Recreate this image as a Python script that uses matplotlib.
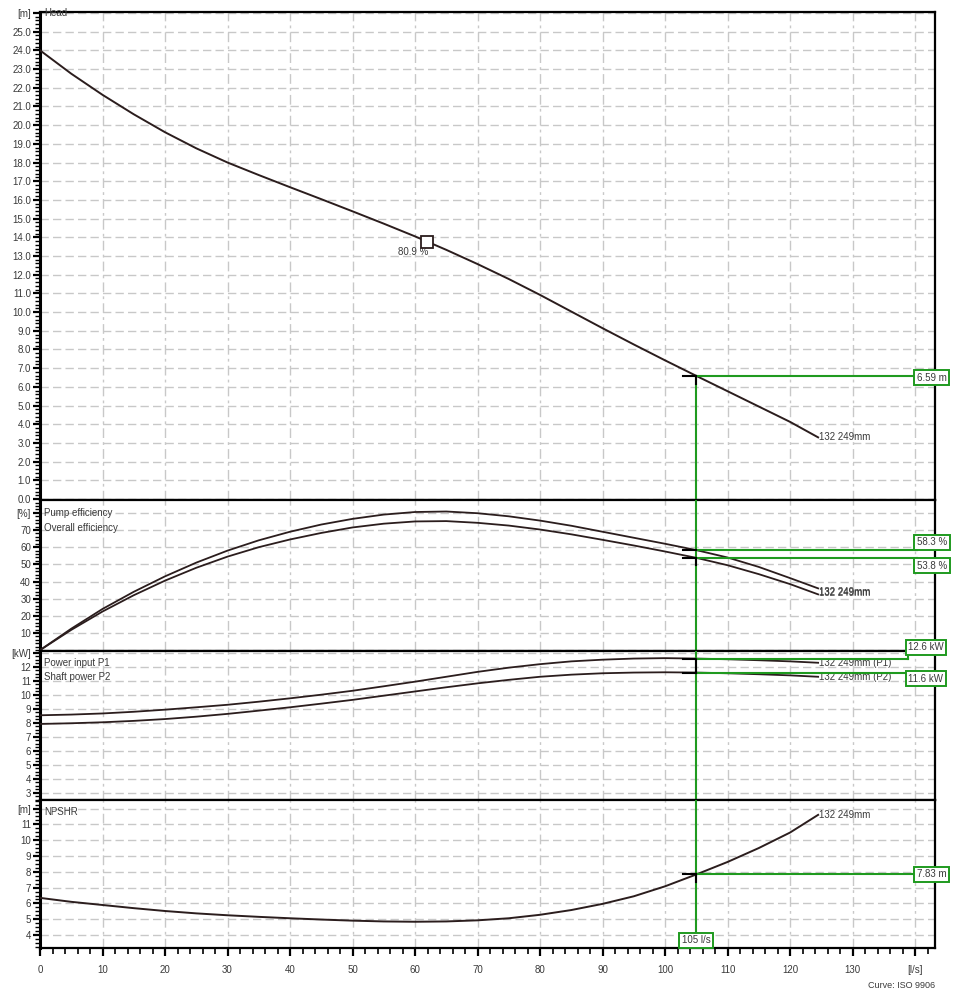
import matplotlib

matplotlib.use("Agg")

import matplotlib.pyplot as plt
from matplotlib.ticker import FixedLocator, MultipleLocator

plt.rcParams["font.family"] = ["Liberation Sans", "DejaVu Sans"]

# flow rate [l/s]
flow = [0, 5, 10, 15, 20, 25, 30, 35, 40, 45, 50, 55, 60, 65, 70, 75, 80, 85,
        90, 95, 100, 105, 110, 115, 120, 124.5]

head = [24.0, 22.75, 21.62, 20.58, 19.62, 18.76, 18.0, 17.33, 16.68, 16.04,
        15.39, 14.73, 14.05, 13.33, 12.57, 11.77, 10.92, 10.03, 9.14, 8.27,
        7.42, 6.59, 5.77, 4.95, 4.13, 3.3]

pump_eff = [0, 12.5, 24, 34, 43, 51, 58, 64, 69, 73.2, 76.5, 79, 80.5, 80.8,
            79.8, 78, 75.5, 72.5, 69, 65.5, 62, 58.3, 54, 48.5, 42, 36]
overall_eff = [0, 11.8, 22.5, 32, 40.5, 48, 54.5, 60, 64.5, 68.3, 71.5, 73.7,
               75, 75.2, 74.2, 72.6, 70.3, 67.5, 64.3, 61, 57.5, 53.8, 49.5,
               44.3, 38.5, 32.5]

power_p1 = [8.55, 8.6, 8.68, 8.8, 8.95, 9.12, 9.3, 9.52, 9.76, 10.02, 10.3,
            10.62, 10.95, 11.3, 11.65, 11.95, 12.2, 12.4, 12.52, 12.6, 12.63,
            12.6, 12.55, 12.48, 12.4, 12.3]
power_p2 = [7.93, 7.98, 8.05, 8.15, 8.28, 8.45, 8.65, 8.88, 9.12, 9.38, 9.65,
            9.95, 10.25, 10.55, 10.83, 11.08, 11.3, 11.45, 11.55, 11.6, 11.62,
            11.6, 11.55, 11.48, 11.4, 11.3]

npshr = [6.35, 6.1, 5.9, 5.7, 5.52, 5.37, 5.25, 5.15, 5.06, 4.98, 4.91, 4.86,
         4.84, 4.86, 4.93, 5.06, 5.28, 5.58, 5.97, 6.45, 7.08, 7.83, 8.62, 9.5,
         10.48, 11.6]

bep_flow = 61.9
bep_head = 13.74
bep_label = "80.9 %"

duty_flow = 105
duty_head = 6.59
duty_pump_eff = 58.3
duty_overall_eff = 53.8
duty_p1 = 12.6
duty_p2 = 11.6
duty_npshr = 7.83

curve_name = "132 249mm"

CURVE = "#2b1d1d"
GREEN = "#1f9a1f"
TEXT = "#3a3a3a"
GRID = "#c8c8c8"
FS = 7

fig = plt.figure(figsize=(9.55, 9.96), dpi=100)
left, width = 40 / 955, 895 / 955


def make_axes(top_px, bottom_px):
    return fig.add_axes([left, 1 - bottom_px / 996, width, (bottom_px - top_px) / 996])


ax_head = make_axes(12, 500)
ax_eff = make_axes(500, 651)
ax_pow = make_axes(651, 800)
ax_npsh = make_axes(800, 948)
axes = [ax_head, ax_eff, ax_pow, ax_npsh]


def style_axes(ax, ylim, ticks, labels, minor, grid_step):
    ax.set_xlim(0, 143.2)
    ax.set_ylim(*ylim)
    ax.yaxis.set_major_locator(FixedLocator(ticks))
    ax.set_yticklabels(labels)
    ax.yaxis.set_minor_locator(MultipleLocator(minor))
    ax.tick_params(axis="y", which="major", length=5, width=1.6, pad=1.5,
                   labelsize=FS, labelcolor=TEXT, direction="out")
    ax.tick_params(axis="y", which="minor", length=3.5, width=1.0, direction="out")
    ax.xaxis.set_major_locator(MultipleLocator(10))
    for spine in ax.spines.values():
        spine.set_linewidth(1.6)
    ax.spines["left"].set_linewidth(2.2)
    # horizontal grid
    g = grid_step * round(ylim[0] / grid_step + 0.5)
    while g < ylim[1]:
        ax.axhline(g, color=GRID, lw=1.0, ls=(0, (6, 3)), zorder=0)
        g += grid_step
    for x in range(10, 141, 10):
        ax.axvline(x, color=GRID, lw=1.0, ls=(0, (7, 3, 2, 3)), zorder=0)


style_axes(ax_head, (-0.05, 26.05), list(range(0, 27)),
           [f"{v:.1f}" for v in range(0, 26)] + ["[m]"], 0.2, 1)
style_axes(ax_eff, (-0.5, 87.5), list(range(10, 81, 10)),
           [str(v) for v in range(10, 71, 10)] + ["[%]"], 2, 10)
style_axes(ax_pow, (2.5, 13.14), list(range(3, 14)),
           [str(v) for v in range(3, 13)] + ["[kW]"], 0.25, 1)
style_axes(ax_npsh, (3.18, 12.54), list(range(4, 13)),
           [str(v) for v in range(4, 12)] + ["[m]"], 0.25, 1)

for ax in axes[:-1]:
    ax.tick_params(axis="x", which="both", length=0, labelbottom=False)

ax_npsh.set_xticks(list(range(0, 141, 10)))
ax_npsh.set_xticklabels([str(v) for v in range(0, 131, 10)] + ["[l/s]"])
ax_npsh.xaxis.set_minor_locator(MultipleLocator(2))
ax_npsh.tick_params(axis="x", which="major", length=6, width=1.6, pad=6,
                    labelsize=FS, labelcolor=TEXT)
ax_npsh.tick_params(axis="x", which="minor", length=4.5, width=1.2)

# curves
ax_head.plot(flow, head, color=CURVE, lw=1.4, zorder=3)
ax_eff.plot(flow, pump_eff, color=CURVE, lw=1.3, zorder=3)
ax_eff.plot(flow, overall_eff, color=CURVE, lw=1.3, zorder=3)
ax_pow.plot(flow, power_p1, color=CURVE, lw=1.3, zorder=3)
ax_pow.plot(flow, power_p2, color=CURVE, lw=1.3, zorder=3)
ax_npsh.plot(flow, npshr, color=CURVE, lw=1.4, zorder=3)

# panel titles
ax_head.text(0.6, 26, "Head", fontsize=FS, color=TEXT, va="center")
ax_eff.text(0.6, 80, "Pump efficiency", fontsize=FS, color=TEXT, va="center")
ax_eff.text(0.6, 71, "Overall efficiency", fontsize=FS, color=TEXT, va="center")
ax_pow.text(0.6, 12.3, "Power input P1", fontsize=FS, color=TEXT, va="center")
ax_pow.text(0.6, 11.3, "Shaft power P2", fontsize=FS, color=TEXT, va="center")
ax_npsh.text(0.6, 11.8, "NPSHR", fontsize=FS, color=TEXT, va="center")

# curve end labels
end_q = flow[-1] + 0.2
ax_head.text(end_q, head[-1], curve_name, fontsize=FS, color=TEXT, va="center")
ax_eff.text(end_q, pump_eff[-1] - 2, curve_name, fontsize=FS, color=TEXT, va="center")
ax_eff.text(end_q, overall_eff[-1] + 1, curve_name, fontsize=FS, color=TEXT, va="center")
ax_pow.text(end_q, power_p1[-1], curve_name + " (P1)", fontsize=FS, color=TEXT, va="center")
ax_pow.text(end_q, power_p2[-1], curve_name + " (P2)", fontsize=FS, color=TEXT, va="center")
ax_npsh.text(end_q, npshr[-1], curve_name, fontsize=FS, color=TEXT, va="center")

# best efficiency point
ax_head.plot([bep_flow], [bep_head], marker="s", ms=8, mfc="white", mec=CURVE,
             mew=1.3, zorder=4)
ax_head.text(bep_flow + 0.3, bep_head - 0.5, bep_label, fontsize=FS, color=TEXT,
             ha="right", va="center")

# duty point guide lines
box_q = 140.3
box_q_kw = 138.9


def value_box(ax, q, y, text):
    ax.text(q, y, text, fontsize=FS, color=TEXT, ha="left", va="center",
            clip_on=False, zorder=6,
            bbox=dict(boxstyle="square,pad=0.25", fc="white", ec=GREEN, lw=1.4))


def duty_mark(ax, y, drop):
    ax.plot([duty_flow, box_q], [y, y], color=GREEN, lw=1.5, zorder=4)
    ax.plot([duty_flow - 2.2, duty_flow], [y, y], color="black", lw=1.5, zorder=5)
    ax.plot([duty_flow, duty_flow], [y, y - drop], color="black", lw=1.5, zorder=5)


ax_head.plot([duty_flow, duty_flow], [0, duty_head], color=GREEN, lw=1.5, zorder=4)
duty_mark(ax_head, duty_head, 0.45)
value_box(ax_head, box_q, duty_head - 0.1, f"{duty_head} m")

ax_eff.axvline(duty_flow, color=GREEN, lw=1.5, zorder=4)
duty_mark(ax_eff, duty_pump_eff, 0)
duty_mark(ax_eff, duty_overall_eff, 4)
ax_eff.plot([box_q, box_q], [duty_pump_eff, duty_pump_eff + 4.5], color=GREEN, lw=1.5)
ax_eff.plot([box_q, box_q], [duty_overall_eff, duty_overall_eff - 4.5], color=GREEN, lw=1.5)
value_box(ax_eff, box_q, duty_pump_eff + 4.5, f"{duty_pump_eff} %")
value_box(ax_eff, box_q, duty_overall_eff - 4.5, f"{duty_overall_eff} %")

ax_pow.axvline(duty_flow, color=GREEN, lw=1.5, zorder=4)
ax_pow.plot([duty_flow, box_q_kw], [duty_p1, duty_p1], color=GREEN, lw=1.5, zorder=4)
ax_pow.plot([duty_flow, box_q_kw], [duty_p2, duty_p2], color=GREEN, lw=1.5, zorder=4)
ax_pow.plot([duty_flow - 2.2, duty_flow, duty_flow], [duty_p1, duty_p1, duty_p2],
            color="black", lw=1.5, zorder=5)
ax_pow.plot([duty_flow - 2.2, duty_flow], [duty_p2, duty_p2], color="black", lw=1.5, zorder=5)
ax_pow.plot([box_q_kw, box_q_kw], [duty_p1, 13.4], color=GREEN, lw=1.5, clip_on=False)
value_box(ax_pow, box_q_kw, 13.4, f"{duty_p1} kW")
value_box(ax_pow, box_q_kw, duty_p2 - 0.45, f"{duty_p2} kW")

ax_npsh.plot([duty_flow, duty_flow], [3.7, 12.54], color=GREEN, lw=1.5, zorder=4)
duty_mark(ax_npsh, duty_npshr, 0.45)
value_box(ax_npsh, box_q, duty_npshr, f"{duty_npshr} m")
ax_npsh.text(duty_flow, 3.68, f"{duty_flow} l/s", fontsize=FS, color=TEXT,
             ha="center", va="center", zorder=6,
             bbox=dict(boxstyle="square,pad=0.25", fc="white", ec=GREEN, lw=1.4))

fig.text(935 / 955, 1 - 985 / 996, "Curve: ISO 9906", fontsize=6.5, color=TEXT,
         ha="right", va="center")

fig.savefig("out.png", dpi=100)
plt.close(fig)
